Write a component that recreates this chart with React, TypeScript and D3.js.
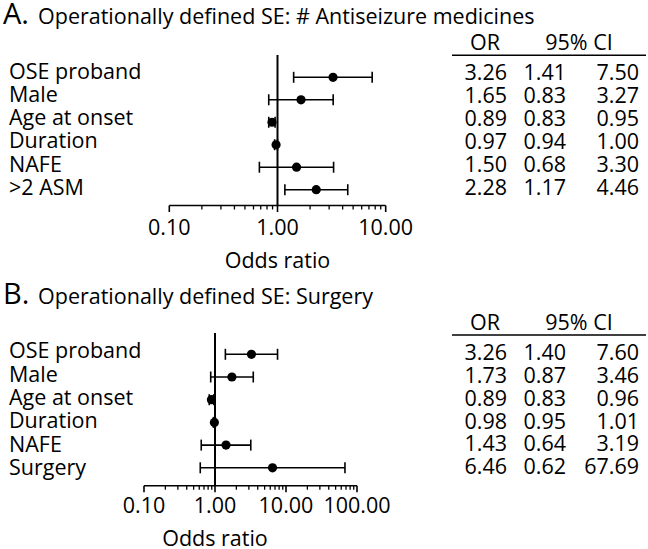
import React from "react";
import * as d3 from "d3";

const labelsA = ["OSE proband", "Male", "Age at onset", "Duration", "NAFE", ">2 ASM"];
const orA = [3.26, 1.65, 0.89, 0.97, 1.5, 2.28];
const loA = [1.41, 0.83, 0.83, 0.94, 0.68, 1.17];
const hiA = [7.5, 3.27, 0.95, 1.0, 3.3, 4.46];
const ticksA = [0.1, 1, 10];

const labelsB = ["OSE proband", "Male", "Age at onset", "Duration", "NAFE", "Surgery"];
const orB = [3.26, 1.73, 0.89, 0.98, 1.43, 6.46];
const loB = [1.4, 0.87, 0.83, 0.95, 0.64, 0.62];
const hiB = [7.6, 3.46, 0.96, 1.01, 3.19, 67.69];
const ticksB = [0.1, 1, 10, 100];

const titleA = "Operationally defined SE: # Antiseizure medicines";
const titleB = "Operationally defined SE: Surgery";

const FONT = "'Open Sans', 'Noto Sans', sans-serif";
const FS = 21.5;

type PanelProps = {
  y0: number;
  letter: string;
  title: string;
  labels: string[];
  or: number[];
  lo: number[];
  hi: number[];
  ticks: number[];
  x0: number;
  x1: number;
  axisY: number;
  refTop: number;
  rowY0: number;
  rowStep: number;
  labelY0: number;
  tickLabelY: number;
  xLabelY: number;
};

function Panel(p: PanelProps) {
  const dom = [p.ticks[0], p.ticks[p.ticks.length - 1]];
  const x = d3.scaleLog().domain(dom).range([p.x0, p.x1]);
  const minor: number[] = [];
  for (let i = 0; i < p.ticks.length - 1; i++) {
    for (let k = 2; k <= 9; k++) minor.push(p.ticks[i] * k);
  }
  const rowY = (i: number) => p.rowY0 + i * p.rowStep;
  const fmt = d3.format(".2f");
  const tableRowY = (i: number) => p.labelY0 + 1.5 + i * 22.9;
  return (
    <g>
      <text x={3} y={p.y0 + 24} fontSize={29} fontFamily={FONT}>{p.letter}</text>
      <text x={38} y={p.y0 + 23.5} fontSize={FS} fontFamily={FONT}>{p.title}</text>
      {p.labels.map((l, i) => (
        <text key={l} x={9} y={p.labelY0 + i * 23.3} fontSize={FS} fontFamily={FONT}>{l}</text>
      ))}
      <line x1={x(1)} x2={x(1)} y1={p.refTop} y2={p.axisY} stroke="#000" strokeWidth={2} />
      <line x1={p.x0} x2={p.x1} y1={p.axisY} y2={p.axisY} stroke="#000" strokeWidth={1.6} />
      {p.ticks.map((t) => (
        <g key={t}>
          <line x1={x(t)} x2={x(t)} y1={p.axisY} y2={p.axisY + 6.5} stroke="#000" strokeWidth={1.6} />
          <text x={x(t)} y={p.tickLabelY} textAnchor="middle" fontSize={FS} fontFamily={FONT}>{fmt(t)}</text>
        </g>
      ))}
      {minor.map((t) => (
        <line key={t} x1={x(t)} x2={x(t)} y1={p.axisY} y2={p.axisY + 4} stroke="#000" strokeWidth={1.3} />
      ))}
      <text x={x(1)} y={p.xLabelY} textAnchor="middle" fontSize={FS} fontFamily={FONT}>Odds ratio</text>
      {p.or.map((v, i) => (
        <g key={i}>
          <line x1={x(p.lo[i])} x2={x(p.hi[i])} y1={rowY(i)} y2={rowY(i)} stroke="#000" strokeWidth={1.6} />
          <line x1={x(p.lo[i])} x2={x(p.lo[i])} y1={rowY(i) - 5.5} y2={rowY(i) + 5.5} stroke="#000" strokeWidth={1.6} />
          <line x1={x(p.hi[i])} x2={x(p.hi[i])} y1={rowY(i) - 5.5} y2={rowY(i) + 5.5} stroke="#000" strokeWidth={1.6} />
          <circle cx={x(v)} cy={rowY(i)} r={4.6} fill="#000" />
        </g>
      ))}
      <text x={485} y={p.labelY0 - 28.3} textAnchor="middle" fontSize={FS} fontFamily={FONT}>OR</text>
      <text x={579} y={p.labelY0 - 28.3} textAnchor="middle" fontSize={FS} fontFamily={FONT}>95% CI</text>
      <line x1={452} x2={646} y1={p.labelY0 - 23.3} y2={p.labelY0 - 23.3} stroke="#000" strokeWidth={1.6} />
      {p.or.map((v, i) => (
        <g key={"t" + i}>
          <text x={507} y={tableRowY(i)} textAnchor="end" fontSize={FS} fontFamily={FONT}>{fmt(v)}</text>
          <text x={566} y={tableRowY(i)} textAnchor="end" fontSize={FS} fontFamily={FONT}>{fmt(p.lo[i])}</text>
          <text x={639} y={tableRowY(i)} textAnchor="end" fontSize={FS} fontFamily={FONT}>{fmt(p.hi[i])}</text>
        </g>
      ))}
    </g>
  );
}

export default function App() {
  return (
    <svg width={648} height={549} style={{ position: "absolute", left: 0, top: 0, background: "#fff" }}>
      <rect width={648} height={549} fill="#fff" />
      <Panel
        y0={0}
        letter="A."
        title={titleA}
        labels={labelsA}
        or={orA}
        lo={loA}
        hi={hiA}
        ticks={ticksA}
        x0={169.3}
        x1={385.7}
        axisY={205.5}
        refTop={55}
        rowY0={77.3}
        rowStep={22.48}
        labelY0={78.5}
        tickLabelY={235}
        xLabelY={268}
      />
      <Panel
        y0={280}
        letter="B."
        title={titleB}
        labels={labelsB}
        or={orB}
        lo={loB}
        hi={hiB}
        ticks={ticksB}
        x0={144}
        x1={357}
        axisY={485.7}
        refTop={333}
        rowY0={354.3}
        rowStep={22.7}
        labelY0={358.3}
        tickLabelY={513}
        xLabelY={546}
      />
    </svg>
  );
}
